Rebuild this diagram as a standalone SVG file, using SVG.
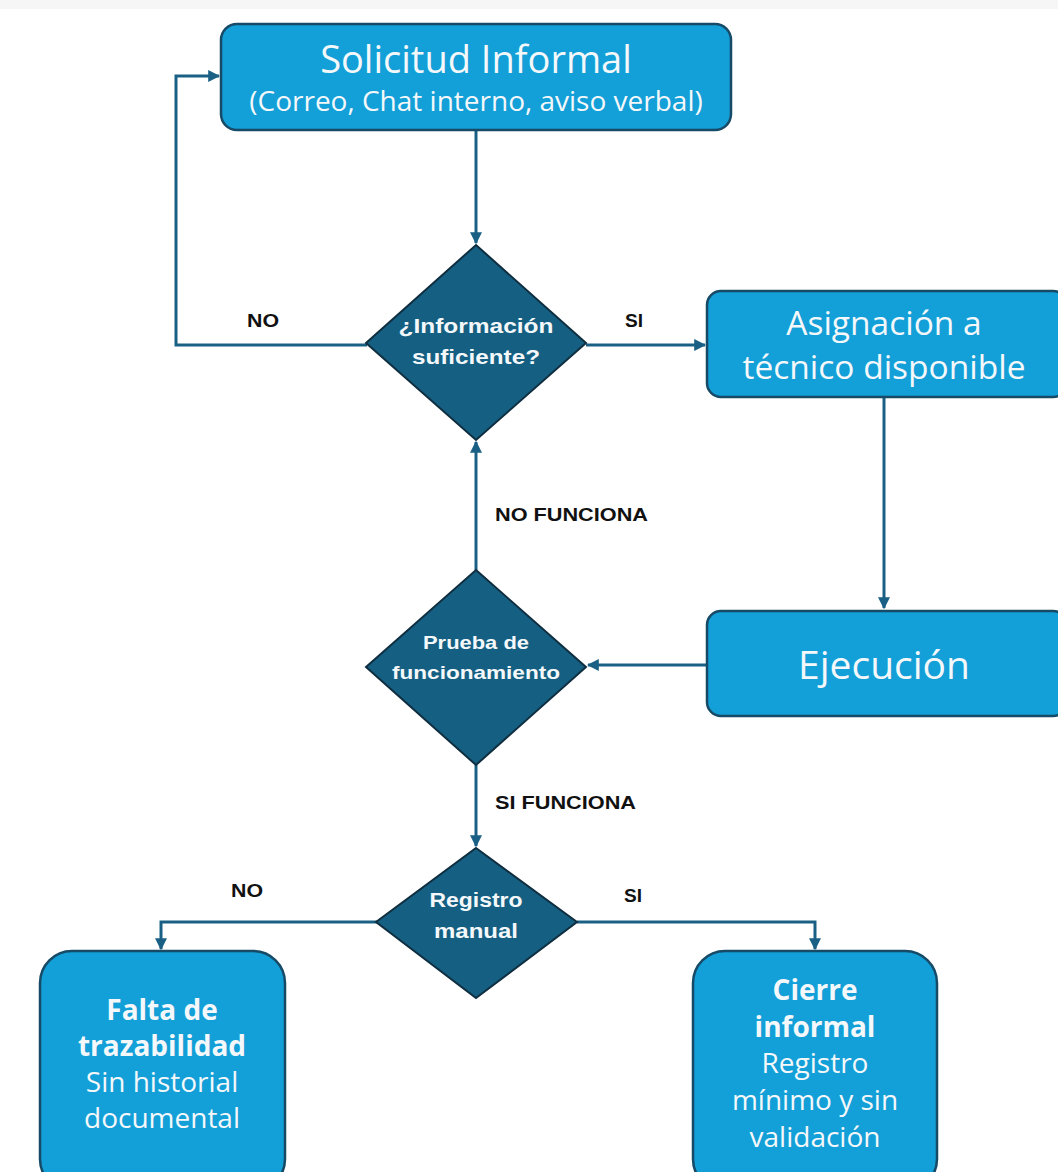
<svg xmlns="http://www.w3.org/2000/svg" width="1058" height="1172" viewBox="0 0 1058 1172">
<defs>
<marker id="ah" viewBox="0 0 10 10" refX="9" refY="5" markerWidth="4" markerHeight="4" orient="auto" markerUnits="strokeWidth">
<path d="M0,0 L10,5 L0,10 z" fill="#1a6085"/>
</marker>
<style>
.box{fill:#139fd7;stroke:#174a66;stroke-width:2.5}
.dia{fill:#156082;stroke:#0f2e40;stroke-width:2}
.con{fill:none;stroke:#1a6085;stroke-width:3;marker-end:url(#ah)}
.t{font-family:"Open Sans","Liberation Sans",sans-serif;fill:#f4f8fb;text-anchor:middle}
.d{font-family:"Liberation Sans","Open Sans",sans-serif;font-weight:bold;fill:#f4f8fb;text-anchor:middle}
.lab{font-family:"Liberation Sans",sans-serif;font-weight:bold;fill:#111;font-size:18px}
.b{font-weight:bold}
</style>
</defs>
<rect x="0" y="0" width="1058" height="9" fill="#f6f6f6"/>
<g id="connectors">
<path class="con" d="M476,131 V243"/>
<path class="con" d="M367,345 H176 V76 H219"/>
<path class="con" d="M586,345 H705"/>
<path class="con" d="M884,398 V608"/>
<path class="con" d="M707,665 H588"/>
<path class="con" d="M476,570 V442"/>
<path class="con" d="M476,765 V846"/>
<path class="con" d="M377,922 H161 V949"/>
<path class="con" d="M577,922 H815 V949"/>
<text class="lab" x="247" y="327" textLength="32" lengthAdjust="spacingAndGlyphs">NO</text>
<text class="lab" x="625" y="327" textLength="18" lengthAdjust="spacingAndGlyphs">SI</text>
<text class="lab" x="495" y="521" textLength="153" lengthAdjust="spacingAndGlyphs">NO FUNCIONA</text>
<text class="lab" x="495" y="809" textLength="141" lengthAdjust="spacingAndGlyphs">SI FUNCIONA</text>
<text class="lab" x="231" y="897" textLength="32" lengthAdjust="spacingAndGlyphs">NO</text>
<text class="lab" x="624" y="902" textLength="18" lengthAdjust="spacingAndGlyphs">SI</text>
</g>
<g id="n1">
<rect class="box" x="221" y="24" width="510" height="106" rx="16"/>
<text class="t" x="476" y="73" font-size="38">Solicitud Informal</text>
<text class="t" x="476" y="111" font-size="28">(Correo, Chat interno, aviso verbal)</text>
</g>
<g id="n2">
<polygon class="dia" points="476,245 586,343 476,440 366,343"/>
<text class="d" x="476" y="333" font-size="21" textLength="155" lengthAdjust="spacingAndGlyphs">¿Información</text>
<text class="d" x="476" y="364" font-size="21" textLength="128" lengthAdjust="spacingAndGlyphs">suficiente?</text>
</g>
<g id="n3">
<rect class="box" x="707" y="291" width="360" height="106" rx="14"/>
<text class="t" x="884" y="335" font-size="33.5">Asignación a</text>
<text class="t" x="884" y="379" font-size="33.5">técnico disponible</text>
</g>
<g id="n4">
<rect class="box" x="707" y="611" width="360" height="105" rx="14"/>
<text class="t" x="884" y="679" font-size="39">Ejecución</text>
</g>
<g id="n5">
<polygon class="dia" points="476,570 586,667 476,765 366,667"/>
<text class="d" x="476" y="649" font-size="19" textLength="106" lengthAdjust="spacingAndGlyphs">Prueba de</text>
<text class="d" x="476" y="679" font-size="19" textLength="168" lengthAdjust="spacingAndGlyphs">funcionamiento</text>
</g>
<g id="n6">
<polygon class="dia" points="476,848 577,922 476,998 376,922"/>
<text class="d" x="476" y="907" font-size="20" textLength="93" lengthAdjust="spacingAndGlyphs">Registro</text>
<text class="d" x="476" y="938" font-size="20" textLength="84" lengthAdjust="spacingAndGlyphs">manual</text>
</g>
<g id="n7">
<rect class="box" x="40" y="951" width="245" height="240" rx="32"/>
<text class="t b" x="162" y="1020" font-size="28">Falta de</text>
<text class="t b" x="162" y="1056" font-size="28">trazabilidad</text>
<text class="t" x="162" y="1092" font-size="28">Sin historial</text>
<text class="t" x="162" y="1128" font-size="28">documental</text>
</g>
<g id="n8">
<rect class="box" x="693" y="951" width="244" height="240" rx="32"/>
<text class="t b" x="815" y="1000" font-size="28">Cierre</text>
<text class="t b" x="815" y="1037" font-size="28">informal</text>
<text class="t" x="815" y="1073" font-size="28">Registro</text>
<text class="t" x="815" y="1110" font-size="28">mínimo y sin</text>
<text class="t" x="815" y="1147" font-size="28">validación</text>
</g>
</svg>
